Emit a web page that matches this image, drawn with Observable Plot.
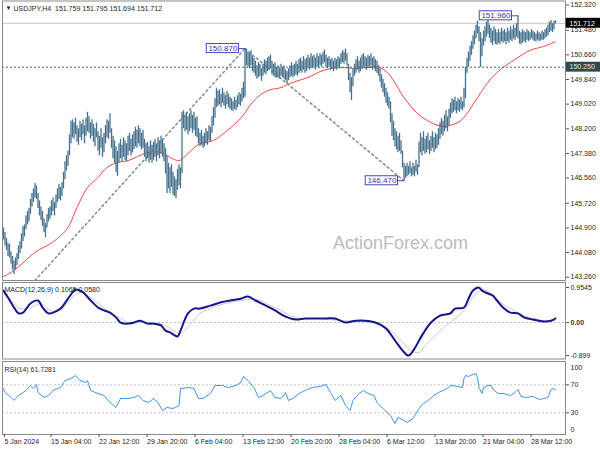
<!DOCTYPE html>
<html><head><meta charset="utf-8">
<script src="https://cdn.jsdelivr.net/npm/d3@7"></script>
<script src="https://cdn.jsdelivr.net/npm/@observablehq/plot@0.6"></script>
<style>
body{margin:0;background:#fff;}
#wrap{position:relative;width:600px;height:450px;overflow:hidden;background:#fff;}
#wrap svg{position:absolute;left:0;}
</style></head><body><div id="wrap"></div>
<script>
// ---------- DATA ----------
const symbol = "USDJPY", timeframe = "H4";
const lastOHLC = [151.759, 151.795, 151.694, 151.712];
const macdTitle = "MACD(12,26,9) 0.1065 0.0580";
const rsiTitle = "RSI(14) 61.7281";
const watermark = "ActionForex.com";

const highs = [
144.90,144.75,144.55,144.40,144.35,144.10,143.95,143.80,143.90,144.05,
144.30,144.45,144.70,144.95,145.00,145.30,145.45,145.55,145.85,146.05,
146.20,146.38,146.30,146.05,145.80,145.60,145.45,145.20,145.05,145.35,
145.55,145.60,145.80,145.90,145.75,146.00,146.20,146.35,146.25,146.40,
146.75,147.10,147.30,147.45,148.00,148.45,148.50,148.40,148.55,148.30,
148.20,148.45,148.35,148.50,148.30,148.55,148.75,148.60,148.40,148.50,
148.35,148.20,148.40,148.10,147.95,148.20,147.90,148.05,148.30,148.50,
148.45,148.70,148.20,147.95,147.80,147.60,147.45,147.70,147.85,147.65,
147.90,147.80,147.70,147.95,148.05,147.85,148.00,148.10,148.25,148.15,
148.30,148.20,148.05,148.15,147.85,147.70,147.75,147.60,147.80,147.65,
147.75,147.85,147.70,147.90,147.80,147.95,147.85,147.70,147.55,147.30,
147.05,146.90,147.00,146.75,146.60,146.50,146.85,147.00,146.90,148.75,
148.80,148.65,148.75,148.60,148.70,148.80,148.65,148.75,148.55,148.60,
148.20,148.05,148.15,147.95,148.05,148.20,148.10,148.30,148.25,148.60,
148.90,149.20,149.55,149.45,149.50,149.35,149.55,149.40,149.30,149.45,
149.35,149.25,149.20,149.10,149.25,149.15,149.30,149.40,149.35,149.55,
149.75,150.87,150.85,150.75,150.70,150.80,150.60,150.55,150.45,150.30,
150.40,150.35,150.20,150.35,150.50,150.45,150.55,150.60,150.65,150.45,
150.35,150.40,150.25,150.30,150.20,150.35,150.25,150.30,150.15,150.10,
150.20,150.30,150.40,150.30,150.35,150.45,150.35,150.50,150.55,150.45,
150.60,150.50,150.55,150.65,150.55,150.70,150.60,150.65,150.55,150.70,
150.60,150.70,150.65,150.75,150.82,150.65,150.55,150.60,150.50,150.55,
150.45,150.55,150.50,150.60,150.55,150.70,150.80,150.75,150.85,150.70,
150.35,150.05,149.90,150.20,150.35,150.50,150.60,150.45,150.55,150.65,
150.70,150.60,150.55,150.65,150.60,150.70,150.55,150.60,150.50,150.45,
150.30,150.20,150.00,149.85,149.70,149.55,149.40,149.25,149.10,148.70,
148.45,148.20,148.10,147.95,148.05,147.80,147.45,147.05,146.95,147.05,
146.95,147.10,146.90,147.05,146.95,147.15,147.00,147.75,148.05,147.90,
148.10,147.85,147.95,148.05,147.80,147.95,148.10,147.90,148.05,148.00,
148.20,148.40,148.55,148.45,148.65,148.80,148.60,148.85,149.05,149.20,
149.15,149.25,149.10,149.20,149.15,149.25,149.10,149.55,150.25,150.55,
150.75,150.95,151.10,151.30,151.45,151.65,151.78,151.60,151.40,151.20,
151.45,151.60,151.75,151.82,151.65,151.55,151.45,151.60,151.50,151.40,
151.50,151.40,151.55,151.45,151.50,151.40,151.55,151.45,151.60,151.50,
151.65,151.55,151.70,151.96,151.45,151.40,151.50,151.45,151.40,151.50,
151.45,151.40,151.50,151.45,151.40,151.35,151.45,151.40,151.35,151.45,
151.40,151.50,151.55,151.65,151.75,151.80,151.70,151.78,151.795];

const lows = [
144.50,144.30,144.15,143.95,143.90,143.70,143.50,143.35,143.50,143.65,
143.85,144.05,144.20,144.45,144.60,144.85,145.00,145.10,145.35,145.60,
145.75,145.90,145.85,145.55,145.30,145.15,144.95,144.75,144.58,144.90,
145.10,145.20,145.30,145.45,145.30,145.55,145.75,145.85,145.80,145.95,
146.20,146.50,146.80,146.95,147.30,147.70,147.90,147.85,148.00,147.75,
147.65,147.90,147.80,148.00,147.70,147.95,148.10,148.05,147.85,147.95,
147.75,147.60,147.90,147.45,147.30,147.55,147.25,147.40,147.70,147.90,
147.85,148.05,147.55,147.20,147.05,146.75,146.62,147.05,147.20,147.10,
147.25,147.15,147.10,147.30,147.45,147.30,147.40,147.50,147.60,147.55,
147.70,147.60,147.50,147.55,147.25,147.10,147.20,147.05,147.15,147.05,
147.15,147.25,147.10,147.30,147.20,147.35,147.25,147.10,146.70,146.05,
146.20,146.05,146.25,146.00,145.95,145.87,146.15,146.30,146.20,146.70,
148.20,148.10,148.15,148.00,148.10,148.20,148.05,148.15,147.95,147.90,
147.70,147.60,147.65,147.55,147.60,147.70,147.65,147.80,147.75,148.05,
148.30,148.55,148.90,148.95,149.00,148.90,149.05,148.95,148.85,149.00,
148.90,148.85,148.80,148.78,148.85,148.80,148.90,149.00,148.95,149.10,
149.20,149.25,150.30,150.25,150.20,150.30,150.10,150.05,149.95,149.85,
149.90,149.95,149.78,149.95,150.05,150.00,150.10,150.15,150.20,150.00,
149.95,149.90,149.88,149.90,149.85,149.95,149.90,149.85,149.80,149.70,
149.80,149.90,149.95,149.90,149.95,150.00,149.95,150.05,150.10,150.05,
150.15,150.05,150.10,150.20,150.15,150.25,150.20,150.25,150.15,150.25,
150.20,150.30,150.25,150.35,150.40,150.25,150.20,150.25,150.15,150.20,
150.10,150.20,150.15,150.25,150.20,150.35,150.40,150.35,150.45,150.30,
149.80,149.40,149.14,149.60,149.95,150.05,150.15,150.05,150.10,150.20,
150.25,150.20,150.15,150.25,150.20,150.30,150.15,150.20,150.10,150.05,
149.95,149.75,149.55,149.40,149.25,149.05,148.95,148.85,148.40,147.95,
147.80,147.60,147.50,147.40,147.45,147.35,146.90,146.47,146.55,146.60,
146.65,146.70,146.60,146.65,146.60,146.75,146.65,146.90,147.40,147.30,
147.45,147.35,147.40,147.50,147.35,147.45,147.55,147.40,147.50,147.55,
147.65,147.85,148.00,147.95,148.10,148.20,148.10,148.30,148.55,148.70,
148.75,148.80,148.70,148.80,148.75,148.85,148.80,148.90,149.20,150.05,
150.25,150.45,150.65,150.85,151.00,151.20,151.35,151.10,150.24,150.60,
150.95,151.10,151.25,151.35,151.20,151.05,150.97,151.10,151.00,150.98,
151.05,151.00,151.10,151.05,151.10,151.00,151.10,151.05,151.15,151.10,
151.20,151.15,151.25,151.20,151.02,151.00,151.05,151.10,151.05,151.15,
151.10,151.15,151.20,151.15,151.10,151.10,151.15,151.10,151.12,151.15,
151.15,151.20,151.25,151.30,151.40,151.45,151.40,151.50,151.694];

// moving average (red) read at sample bars
const maIdx = [0,5,11,20,25,29,36,43,49,56,63,69,76,83,91,96,105,109,117,123,131,140,149,158,167,176,185,191,203,213,225,233,243,249,256,260,267,276,285,293,303,308,316,325,333,343,351,360,368];
const maVal = [143.28,143.42,143.65,144.05,144.21,144.31,144.55,144.91,145.58,146.24,146.58,146.91,147.08,147.14,147.31,147.41,147.41,147.31,147.14,147.38,147.71,147.81,148.14,148.54,149.14,149.47,149.57,149.71,149.91,150.14,150.24,150.21,150.24,150.27,150.07,149.81,149.24,148.71,148.41,148.28,148.41,148.64,149.24,149.87,150.24,150.57,150.81,150.94,151.10];

// MACD main line and signal
const macdIdx = [0,3,7,10,13,18,23,26,30,33,38,43,46,48,53,57,63,67,71,75,78,83,87,91,96,100,105,108,111,116,118,123,127,131,138,145,151,158,163,168,175,181,188,195,201,208,215,221,228,235,241,248,255,261,266,270,274,279,285,291,298,301,307,310,313,317,319,323,326,329,333,338,343,347,353,360,365,368];
const macdVal = [0.87,0.68,0.41,0.25,0.27,0.52,0.60,0.41,0.25,0.27,0.38,0.65,0.82,0.90,0.82,0.65,0.41,0.33,0.27,0.14,0.00,-0.03,0.00,0.05,-0.03,-0.03,-0.08,-0.22,-0.27,-0.38,-0.22,0.25,0.38,0.38,0.46,0.55,0.60,0.65,0.71,0.60,0.46,0.33,0.16,0.08,0.11,0.11,0.11,0.11,0.00,0.05,0.05,0.00,-0.16,-0.49,-0.76,-0.90,-0.71,-0.35,0.00,0.19,0.25,0.38,0.41,0.65,0.87,0.95,0.87,0.79,0.74,0.60,0.41,0.27,0.25,0.14,0.08,0.03,0.05,0.11];
const sigIdx = [0,5,11,18,25,31,38,45,51,58,65,71,78,85,91,98,105,111,118,125,131,138,145,151,158,165,171,178,185,191,198,211,225,238,251,258,265,271,277,281,288,295,298,307,313,319,325,331,338,347,356,363,368];
const sigVal = [0.79,0.60,0.38,0.41,0.52,0.33,0.33,0.65,0.82,0.68,0.46,0.27,0.11,-0.03,0.00,0.00,-0.03,-0.16,-0.30,-0.03,0.25,0.38,0.49,0.55,0.60,0.63,0.60,0.46,0.33,0.19,0.11,0.11,0.05,0.03,-0.05,-0.22,-0.49,-0.76,-0.82,-0.63,-0.35,-0.08,0.00,0.33,0.68,0.90,0.79,0.55,0.38,0.19,0.08,0.03,0.06];

// RSI(14)
const rsiIdx = [0,1,5,7,10,15,18,20,22,23,27,30,33,38,41,45,48,51,55,56,58,63,67,71,75,78,83,87,90,93,97,100,103,106,109,113,117,118,123,127,130,133,138,141,146,150,155,158,160,163,167,170,173,178,181,185,188,190,193,197,201,206,211,215,218,221,225,228,231,233,237,240,243,247,249,253,258,261,263,267,269,273,275,277,280,283,287,290,293,297,298,303,306,307,308,310,313,315,316,317,319,320,323,325,327,330,333,338,341,343,345,348,353,356,358,360,363,365,367,368];
const rsiVal = [64.7,59,52,47.6,54.7,61.9,69,64.7,70.4,59,52,54.7,61.9,66.1,76.1,79,83.3,76.1,73.3,76.1,61.9,57.6,54.7,44.7,37.6,50.4,50.4,51.9,54.7,47.6,44.7,50.4,44.7,33.3,37.6,36.1,40.4,64.7,66.1,64.7,50.4,50.4,57.6,69,69,66.1,69,73.3,81.9,76.1,66.1,51.9,54.7,61.9,51.9,50.4,59,47.6,50.4,57.6,61.9,66.1,67.6,70.4,59,47.6,54.7,40.4,33.3,47.6,57.6,61.9,57.6,54.7,44.7,36.1,26.1,14.7,23.3,19,16.1,21.9,29,36.1,43.3,47.6,54.7,59,61.9,66.1,69,67.6,66.1,79,83.3,81.9,84.7,86.1,80.4,66.1,57.6,66.1,69,69,61.9,57.6,57.6,54.7,59,63.3,53.3,51.9,53.3,50.4,49,50.4,51.9,63.3,64.7,61.7];

// swing annotations and trend lines
const swingIdx = [161, 267, 343];
const swingPrice = [150.87, 146.47, 151.96];
const trendUp = [{i: 21, p: 143.15}, {i: 161, p: 150.87}];
const trendDown = [{i: 161, p: 150.87}, {i: 267, p: 146.47}];
const levelLine = 150.25;
const bidPrice = 151.712;

// axis ticks
const priceTicks = [152.32,151.48,150.66,149.84,149.02,148.2,147.38,146.56,145.72,144.9,144.08,143.26];
const macdTicks = [0.9545, -0.899];
const macdTickLbl = ["0.9545", "-0.899"];
const macdZeroLbl = "0.00";
const tickIdx = [0,31,63,95,127,159,191,223,255,287,319,351];
const tickLbl = ["5 Jan 2024","15 Jan 04:00","22 Jan 12:00","29 Jan 20:00","6 Feb 04:00","13 Feb 12:00","20 Feb 20:00","28 Feb 04:00","6 Mar 12:00","13 Mar 20:00","21 Mar 04:00","28 Mar 12:00"];

// ---------- BUILD ----------
const bars = highs.map((h, i) => ({i, high: h, low: lows[i]}));
const ma = maIdx.map((i, k) => ({i, v: maVal[k]}));
const macd = macdIdx.map((i, k) => ({i, v: macdVal[k]}));
const sig = sigIdx.map((i, k) => ({i, v: sigVal[k]}));
const rsi = rsiIdx.map((i, k) => ({i, v: rsiVal[k]}));
const swings = swingIdx.map((i, k) => ({i, p: swingPrice[k]}));
const rightLabels = [{p: bidPrice, bg: "#000000", fg: "#ffffff"}, {p: levelLine, bg: "#2f4a4a", fg: "#e8e8e8"}];

const FONT = '"Liberation Sans", Arial, sans-serif';
const XMAX = 374.67;
const xOpt = {domain: [0, XMAX], range: [3, 565], axis: null, label: null};
const frameColor = "#8a8a8a";
const textColor = "#1e1e1e";
const axisOpt = {anchor: "right", label: null, tickSize: 3, tickPadding: 2, stroke: "#555", fill: textColor};

const mainPlot = Plot.plot({
  width: 600, height: 281,
  marginLeft: 2, marginRight: 35, marginTop: 0.5, marginBottom: 1,
  x: xOpt,
  y: {domain: [143.26, 152.32], range: [276.7, 4.5], axis: null, label: null},
  style: {fontFamily: FONT, fontSize: "7px", background: "transparent", color: textColor},
  marks: [
    Plot.text([watermark], {frameAnchor: "top-left", dx: 398, dy: 242.5, textAnchor: "middle", lineAnchor: "middle", fontSize: 18, fill: "#bcbcbc"}),
    Plot.ruleY([bidPrice], {stroke: "#c4c4c4"}),
    Plot.ruleY([levelLine], {stroke: "#4d6464", strokeDasharray: "2,2"}),
    Plot.line(trendUp, {x: "i", y: "p", stroke: "#7d8f8f", strokeDasharray: "2,3"}),
    Plot.line(trendDown, {x: "i", y: "p", stroke: "#7d8f8f", strokeDasharray: "2,3"}),
    Plot.line(ma, {x: "i", y: "v", stroke: "#f04646", strokeWidth: 1, curve: "catmull-rom"}),
    Plot.ruleX(bars, {x: "i", y1: "low", y2: "high", stroke: "#46728e", strokeWidth: 1.3}),
    Plot.link(swings, {x1: d => d.i - 4, x2: "i", y1: "p", y2: "p", stroke: "#4646c4"}),
    Plot.rect(swings, {x1: d => d.i - 25.5, x2: d => d.i - 4, y1: d => d.p + 0.15, y2: d => d.p - 0.15, fill: "white", stroke: "#4646c4"}),
    Plot.text(swings, {x: d => d.i - 14.75, y: "p", text: d => d.p.toFixed(3), fontSize: 8, fill: "#3434b0"}),
    Plot.frame({stroke: frameColor}),
    Plot.axisY({...axisOpt, ticks: priceTicks, tickFormat: d => d.toFixed(3)}),
    Plot.rect(rightLabels, {x1: () => XMAX + 0.5, x2: () => XMAX + 25, y1: d => d.p + 0.165, y2: d => d.p - 0.165, fill: "bg"}),
    Plot.text(rightLabels, {x: () => XMAX, y: "p", text: d => d.p.toFixed(3), textAnchor: "start", dx: 4, fill: "fg"}),
    Plot.text(["\u25BC"], {frameAnchor: "top-left", dx: 3, dy: 7.5, lineAnchor: "middle", textAnchor: "start", fontSize: 6, fill: "#111"}),
    Plot.text([`${symbol},${timeframe}\u00a0\u00a0${lastOHLC.map(v => v.toFixed(3)).join(" ")}`], {frameAnchor: "top-left", dx: 11, dy: 7.5, lineAnchor: "middle", textAnchor: "start", fill: textColor})
  ]
});

const macdPlot = Plot.plot({
  width: 600, height: 79,
  marginLeft: 2, marginRight: 35, marginTop: 1, marginBottom: 1.5,
  x: xOpt,
  y: {domain: [-0.899, 0.9545], range: [74, 6], axis: null, label: null},
  style: {fontFamily: FONT, fontSize: "7px", background: "transparent", color: textColor},
  marks: [
    Plot.ruleY([0], {stroke: "#bdbdbd", strokeDasharray: "2,2"}),
    Plot.line(sig, {x: "i", y: "v", stroke: "#c8c8c8", strokeWidth: 1, curve: "catmull-rom"}),
    Plot.line(macd, {x: "i", y: "v", stroke: "#14148c", strokeWidth: 2, curve: "catmull-rom"}),
    Plot.frame({stroke: frameColor}),
    Plot.axisY({...axisOpt, ticks: macdTicks, tickFormat: d => macdTickLbl[macdTicks.indexOf(d)]}),
    Plot.axisY({...axisOpt, ticks: [0], tickFormat: () => macdZeroLbl, fontWeight: "bold", fill: "#3a3a1a"}),
    Plot.text([macdTitle], {frameAnchor: "top-left", dx: 2, dy: 7, lineAnchor: "middle", textAnchor: "start", fill: textColor})
  ]
});

const rsiPlot = Plot.plot({
  width: 600, height: 90,
  marginLeft: 2, marginRight: 35, marginTop: 1, marginBottom: 16,
  x: xOpt,
  y: {domain: [0, 100], range: [73.3, 3.3], axis: null, label: null},
  style: {fontFamily: FONT, fontSize: "7px", background: "transparent", color: textColor},
  marks: [
    Plot.ruleY([70, 30], {stroke: "#c4c4c4", strokeDasharray: "2,2"}),
    Plot.line(rsi, {x: "i", y: "v", stroke: "#3c96f0", strokeWidth: 1}),
    Plot.frame({stroke: frameColor}),
    Plot.axisY({...axisOpt, ticks: [70, 30]}),
    Plot.axisY({...axisOpt, ticks: [100], tickSize: 0, tickPadding: 5, dy: 4}),
    Plot.axisY({...axisOpt, ticks: [0], tickSize: 0, tickPadding: 5, dy: -4}),
    Plot.axisX({anchor: "bottom", label: null, ticks: tickIdx, tickFormat: d => tickLbl[tickIdx.indexOf(d)], tickSize: 3, tickPadding: 2, textAnchor: "start", dx: 1, stroke: "#555", fill: textColor}),
    Plot.text([rsiTitle], {frameAnchor: "top-left", dx: 2, dy: 8, lineAnchor: "middle", textAnchor: "start", fill: textColor})
  ]
});

const wrap = document.getElementById("wrap");
[[mainPlot, 0], [macdPlot, 281], [rsiPlot, 360]].forEach(([el, top]) => {
  el.style.position = "absolute";
  el.style.top = top + "px";
  el.style.left = "0px";
  wrap.appendChild(el);
});
</script>
</body></html>
